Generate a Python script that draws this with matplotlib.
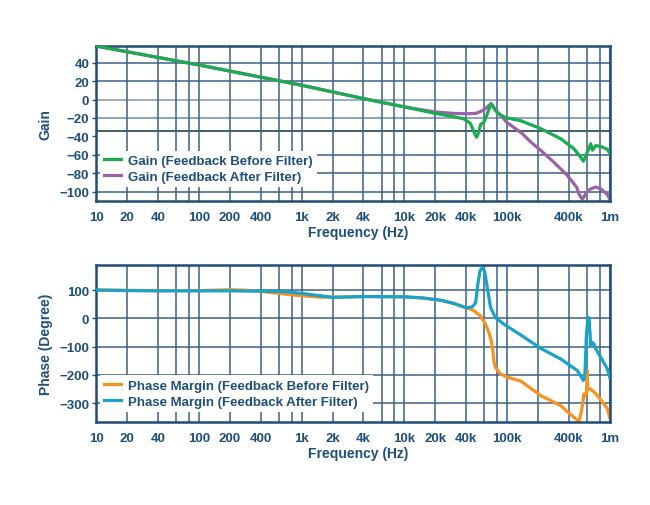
import numpy as np
import matplotlib as mpl
import matplotlib.pyplot as plt
from matplotlib.ticker import FixedLocator, FixedFormatter, LogLocator, NullFormatter

# plotting parameters
mpl.rcParams["font.family"] = "Liberation Sans"
mpl.rcParams["font.weight"] = "bold"
mpl.rcParams["font.size"] = 9.5

NAVY = "#1d4f7a"
GRID = "#3a6085"
SPINE = "#214c75"

# x ticks
tick_freqs = [10, 20, 40, 100, 200, 400, 1e3, 2e3, 4e3, 1e4, 2e4, 4e4, 1e5, 4e5, 1e6]
tick_labels = ["10", "20", "40", "100", "200", "400", "1k", "2k", "4k", "10k", "20k",
               "40k", "100k", "400k", "1m"]

# gain, feedback before filter
freq_gain_before = [10, 100, 1000, 4000, 10000, 20000, 30000, 38000, 44000, 47500, 50600,
                    53200, 55300, 59800, 64300, 70000, 77400, 86600, 100000, 136000, 212000,
                    333000, 449000, 521000, 554000, 580000, 610000, 630000, 653000, 680000,
                    731000, 820000, 949000, 1000000]
gain_before = [58, 37.5, 15.5, 1, -8, -15, -18.5, -21, -26, -35, -41,
               -35, -27, -24.5, -15.5, -4.5, -12, -17, -20, -23, -31.5,
               -42.5, -53.5, -62.5, -67, -62, -56, -53, -48, -55,
               -50, -51, -54, -58]

# gain, feedback after filter
freq_gain_after = [10, 100, 1000, 4000, 10000, 20000, 30000, 40000, 50000, 55300, 59800,
                   64300, 70000, 74000, 80000, 90000, 100000, 141000, 170000, 212000, 286000,
                   387000, 449000, 480000, 502000, 540000, 560000, 582000, 620000, 653000,
                   731000, 820000, 949000, 1000000]
gain_after = [58, 37.5, 15.5, 1, -8, -13.5, -15, -15.5, -15, -13, -11,
              -8, -4.5, -8, -13.5, -19, -25, -37, -46, -55, -68,
              -82.5, -91.5, -96, -102.5, -108, -106, -102.5, -99, -97,
              -95, -97, -103, -108]

# phase, feedback before filter
freq_phase_before = [10, 20, 40, 100, 200, 300, 400, 600, 800, 1000, 1500, 2000, 4000, 10000,
                     15000, 22500, 30000, 40000, 47000, 55300, 61900, 66600, 70300, 72900,
                     74500, 77400, 86600, 108000, 136000, 212000, 333000, 401000, 502000,
                     530000, 542000, 562000, 574000, 595000, 603000, 612000, 653000, 759000,
                     949000, 1000000]
phase_before = [100, 99, 98, 98, 101, 99, 95, 88, 83, 80, 75, 75, 77, 76,
                72, 64, 53, 37.5, 28, 8, -21, -51, -80, -115,
                -151, -175, -198, -212, -222, -273, -309, -335, -365,
                -330, -309, -267, -275, -270, -185, -250, -250, -273,
                -320, -350]

# phase, feedback after filter
freq_phase_after = [10, 20, 40, 100, 200, 400, 600, 800, 1000, 1500, 2000, 4000, 10000,
                    15000, 22500, 30000, 40000, 45900, 49500, 52000, 54500, 57500, 60600,
                    64300, 69200, 77400, 93300, 136000, 212000, 333000, 484000, 554000,
                    574000, 593000, 615000, 630000, 653000, 676000, 702000, 731000, 817000,
                    949000, 1000000]
phase_after = [100, 98, 97, 97, 97, 96, 95, 92, 88, 80, 74, 77, 76,
               72, 64, 53, 37.5, 40, 55, 120, 167, 179, 167,
               108, 37.5, 2, -21, -59, -106, -144, -185, -220,
               -197, -61, 3.5, 0, -97, -86, -90, -108, -138,
               -179, -209]


def style_axes(ax, yticks, ylim, ylabel, hlines):
    ax.set_xscale("log")
    ax.set_xlim(10, 1e6)
    ax.set_ylim(*ylim)
    ax.xaxis.set_major_locator(FixedLocator(tick_freqs))
    ax.xaxis.set_major_formatter(FixedFormatter(tick_labels))
    ax.xaxis.set_minor_locator(LogLocator(base=10, subs=[2, 4, 6, 8], numticks=20))
    ax.xaxis.set_minor_formatter(NullFormatter())
    ax.set_yticks(yticks)
    ax.grid(True, which="both", axis="x", color=GRID, lw=1.1, zorder=0)
    # horizontal grid lines as drawn in the original
    for y, c in hlines:
        ax.axhline(y, color=c, lw=1.1, zorder=0)
    ax.tick_params(axis="x", which="both", length=0, pad=7, colors=NAVY, labelsize=9.5)
    ax.tick_params(axis="y", length=3, width=1, pad=2, colors=NAVY, labelsize=9.5)
    for s in ax.spines.values():
        s.set_color(SPINE)
        s.set_linewidth(1.8)
    ax.set_xlabel("Frequency (Hz)", color=NAVY, fontsize=10, fontweight="bold")
    ax.set_ylabel(ylabel, color=NAVY, fontsize=10, fontweight="bold")
    ax.xaxis.set_label_coords(0.51, -0.155)
    ax.yaxis.set_label_coords(-0.085, 0.5)


fig = plt.figure(figsize=(6.5, 5.06), dpi=100)

ax1 = fig.add_axes([0.148, 0.601, 0.79, 0.306])
ax1.plot(freq_gain_before, gain_before, color="#1cab4e", lw=2.3, label="Gain (Feedback Before Filter)", zorder=3)
ax1.plot(freq_gain_after, gain_after, color="#9a63a9", lw=2.3, label="Gain (Feedback After Filter)", zorder=2)
style_axes(ax1, [40, 20, 0, -20, -40, -60, -80, -100], (-110, 58), "Gain",
           [(40, GRID), (20, GRID), (0, "#7f9ab5"), (-20, "#6f8cab"), (-34, "#0f2f50"),
            (-60, GRID), (-80, GRID), (-100, GRID)])
leg1 = ax1.legend(loc="lower left", bbox_to_anchor=(0.008, 0.09), frameon=True, fancybox=False,
                  edgecolor="none", facecolor="white", framealpha=1, handlelength=1.3,
                  handletextpad=0.5, borderaxespad=0, borderpad=0.3, labelspacing=0.3)
for t in leg1.get_texts():
    t.set_color(NAVY)

ax2 = fig.add_axes([0.148, 0.164, 0.79, 0.31])
ax2.plot(freq_phase_before, phase_before, color="#f6921e", lw=2.3, label="Phase Margin (Feedback Before Filter)", zorder=2)
ax2.plot(freq_phase_after, phase_after, color="#18a3c9", lw=2.3, label="Phase Margin (Feedback After Filter)", zorder=3)
style_axes(ax2, [100, 0, -100, -200, -300], (-367, 188), "Phase (Degree)",
           [(100, GRID), (0, GRID), (-100, GRID), (-200, GRID), (-300, GRID)])
leg2 = ax2.legend(loc="lower left", bbox_to_anchor=(0.008, 0.065), frameon=True, fancybox=False,
                  edgecolor="none", facecolor="white", framealpha=1, handlelength=1.3,
                  handletextpad=0.5, borderaxespad=0, borderpad=0.3, labelspacing=0.3)
for t in leg2.get_texts():
    t.set_color(NAVY)

plt.savefig("out.png", dpi=100)
